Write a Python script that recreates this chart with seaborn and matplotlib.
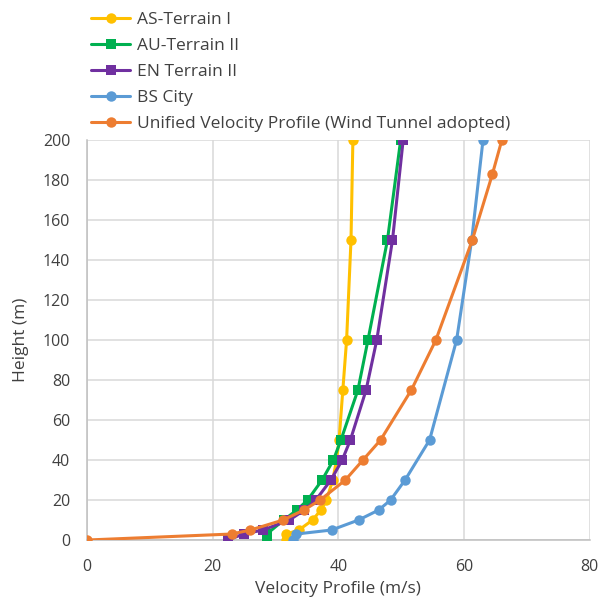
import matplotlib
matplotlib.use("Agg")
import matplotlib.pyplot as plt
import seaborn as sns
import pandas as pd

# Wind velocity profiles: velocity (m/s) against height above ground (m)
as_height = [0, 3, 5, 10, 15, 20, 30, 40, 50, 75, 100, 150, 200]
as_velocity = [31.7, 31.7, 33.7, 35.9, 37.2, 38.1, 39.1, 39.7, 40.1, 40.7, 41.3, 42.0, 42.3]

au_height = [0, 3, 10, 15, 20, 30, 40, 50, 75, 100, 150, 200]
au_velocity = [28.6, 28.6, 31.3, 33.4, 35.1, 37.4, 39.2, 40.4, 43.1, 44.7, 47.8, 49.9]

en_height = [0, 3, 5, 10, 15, 20, 30, 40, 50, 75, 100, 150, 200]
en_velocity = [22.4, 24.9, 28.0, 32.2, 34.6, 36.4, 38.8, 40.6, 41.9, 44.4, 46.1, 48.6, 50.3]

bs_height = [0, 3, 5, 10, 15, 20, 30, 50, 100, 150, 200]
bs_velocity = [32.8, 33.3, 38.9, 43.2, 46.4, 48.3, 50.6, 54.5, 58.8, 61.2, 63.0]

uv_height = [0, 3, 5, 10, 15, 20, 30, 40, 50, 75, 100, 150, 183, 200]
uv_velocity = [0.0, 23.0, 26.0, 31.2, 34.5, 37.1, 41.1, 43.9, 46.7, 51.6, 55.5, 61.3, 64.5, 66.0]

series_names = ["AS-Terrain I", "AU-Terrain II", "EN Terrain II", "BS City",
                "Unified Velocity Profile (Wind Tunnel adopted)"]
series_colors = ["#FFC000", "#00B050", "#7030A0", "#5B9BD5", "#ED7D31"]
series_markers = ["o", "s", "s", "o", "o"]

x_ticks = [0, 20, 40, 60, 80]
y_ticks = [0, 20, 40, 60, 80, 100, 120, 140, 160, 180, 200]

sns.set_theme(style="white")
plt.rcParams["font.family"] = ["Open Sans", "DejaVu Sans"]

fig = plt.figure(figsize=(6.10, 6.08), dpi=100)
ax = fig.add_axes([0.1426, 0.1118, 0.8244, 0.6579])

data = [(as_velocity, as_height), (au_velocity, au_height), (en_velocity, en_height),
        (bs_velocity, bs_height), (uv_velocity, uv_height)]

for (vel, hgt), name, color, mk in zip(data, series_names, series_colors, series_markers):
    df = pd.DataFrame({"velocity": vel, "height": hgt})
    sns.lineplot(data=df, x="velocity", y="height", ax=ax, sort=False, estimator=None,
                 color=color, marker=mk, markersize=7.5, markeredgewidth=0,
                 linewidth=2.2, label=name, zorder=3)

ax.set_xlim(0, 80)
ax.set_ylim(0, 200)
ax.set_xticks(x_ticks)
ax.set_yticks(y_ticks)
ax.grid(True, color="#D9D9D9", linewidth=1.1, zorder=0)
ax.set_axisbelow(True)
for side in ["top", "right"]:
    ax.spines[side].set_visible(False)
for side in ["left", "bottom"]:
    ax.spines[side].set_color("#BFBFBF")
    ax.spines[side].set_linewidth(1.1)
ax.tick_params(axis="both", length=0, labelsize=11.5, labelcolor="#404040")
ax.tick_params(axis="x", pad=14)
ax.tick_params(axis="y", pad=12)

ax.set_xlabel("Velocity Profile (m/s)", fontsize=12.5, color="#404040", labelpad=4)
ax.set_ylabel("Height (m)", fontsize=12.5, color="#404040", labelpad=10)

leg = ax.legend(loc="upper left", bbox_to_anchor=(0.13, 1.0), bbox_transform=fig.transFigure,
                frameon=False, fontsize=12.5, handlelength=2.2, handletextpad=0.45,
                labelspacing=0.56, borderaxespad=0.3)
for t in leg.get_texts():
    t.set_color("#404040")

fig.savefig("out.png", dpi=100)
